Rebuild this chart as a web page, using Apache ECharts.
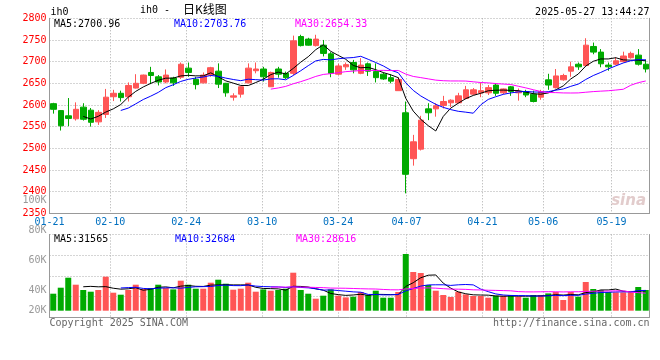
<!DOCTYPE html>
<html><head><meta charset="utf-8">
<script src="https://cdn.jsdelivr.net/npm/echarts@6/dist/echarts.min.js"></script>
<style>html,body{margin:0;padding:0;background:#fff}#c{width:660px;height:360px}</style>
</head><body><div id="c"></div>
<script>
// ---------- DATA ----------
const dates = ['01-21','01-22','01-23','01-24','01-27','02-05','02-06','02-07','02-10','02-11','02-12','02-13','02-14','02-17','02-18','02-19','02-20','02-21','02-24','02-25','02-26','02-27','02-28','03-03','03-04','03-05','03-06','03-07','03-10','03-11','03-12','03-13','03-14','03-17','03-18','03-19','03-20','03-21','03-24','03-25','03-26','03-27','03-28','03-31','04-01','04-02','04-03','04-07','04-08','04-09','04-10','04-11','04-14','04-15','04-16','04-17','04-18','04-21','04-22','04-23','04-24','04-25','04-28','04-29','04-30','05-06','05-07','05-08','05-09','05-12','05-13','05-14','05-15','05-16','05-19','05-20','05-21','05-22','05-23','05-26'];
const opens = [2603,2587,2575,2568,2595,2588,2561,2578,2619,2627, 2619,2639,2650,2675,2665,2653,2662,2664,2685,2659, 2651,2669,2678,2650,2618,2625,2651,2679,2683,2642, 2683,2673,2673,2758,2752,2737,2738,2718,2671,2688, 2698,2673,2695,2677,2671,2663,2633,2582,2476,2498, 2591,2591,2599,2605,2605,2615,2625,2628,2628,2646, 2628,2642,2628,2631,2625,2618,2658,2640,2658,2678, 2694,2691,2735,2722,2692,2694,2700,2709,2715,2694];
const closes = [2590,2552,2569,2590,2567,2560,2583,2618,2627,2617, 2645,2650,2669,2668,2653,2669,2651,2694,2675,2647, 2669,2686,2648,2628,2621,2642,2685,2683,2665,2675, 2671,2663,2748,2737,2738,2752,2719,2673,2690,2693, 2681,2692,2678,2663,2660,2655,2659,2440,2515,2565, 2582,2598,2608,2611,2621,2635,2635,2633,2640,2627, 2637,2631,2631,2623,2608,2631,2646,2667,2668,2688, 2688,2738,2722,2695,2688,2702,2713,2719,2694,2683];
const lows = [2580,2541,2551,2564,2564,2550,2554,2570,2609,2608, 2608,2638,2648,2648,2645,2650,2644,2660,2665,2636, 2650,2665,2639,2619,2610,2617,2650,2673,2654,2642, 2663,2660,2669,2735,2737,2735,2712,2664,2669,2681, 2673,2671,2667,2652,2658,2650,2633,2396,2460,2495, 2565,2573,2592,2595,2604,2613,2623,2618,2623,2621, 2625,2621,2610,2618,2606,2612,2635,2638,2656,2665, 2681,2688,2717,2687,2679,2692,2698,2707,2691,2675];
const highs = [2605,2588,2616,2606,2604,2593,2588,2637,2635,2633, 2652,2671,2670,2688,2669,2682,2665,2698,2698,2665, 2675,2688,2696,2651,2627,2643,2696,2698,2688,2677, 2688,2677,2760,2762,2755,2762,2750,2722,2695,2698, 2704,2708,2698,2696,2675,2671,2664,2608,2531,2575, 2604,2604,2621,2613,2628,2644,2639,2652,2646,2650, 2638,2644,2638,2635,2633,2635,2672,2683,2672,2700, 2698,2754,2744,2729,2698,2710,2723,2723,2729,2705];
const volumes = [27200,36800,52800,41600,33100,30400,33100,54400,28800,25600, 33100,41600,34700,36300,41600,36300,34100,48000,41600,35200, 35200,44800,49600,43200,33600,35200,44800,30400,34100,32000, 33100,35200,60800,33100,27200,19200,24000,34100,24000,21300, 22400,29900,25100,32000,20800,20800,29900,90700,61900,60300, 41100,32000,25100,21900,30400,26100,23500,23500,20800,24000, 24000,25100,22400,20800,25100,25100,27700,29900,17100,29900, 22400,45900,34700,33100,29900,29300,29300,29300,37900,33100];

const xTickLabels = ['01-21','02-10','02-24','03-10','03-24','04-07','04-21','05-06','05-19'];
const priceMin = 2350, priceMax = 2800, priceStep = 50;
const volTickValues = [20000,40000,60000,80000,100000];
const volTickLabels = ['20K','40K','60K','80K','100K'];

const titleSymbol = 'ih0';
const titleMain = 'ih0 -';
const titleCN = '日K线图';
const stamp = '2025-05-27 13:44:27';
const priceMaText = ['MA5:2700.96','MA10:2703.76','MA30:2654.33'];
const volMaText = ['MA5:31565','MA10:32684','MA30:28616'];
const copyText = 'Copyright 2025 SINA.COM';
const urlText = 'http://finance.sina.com.cn';

// ---------- STYLE ----------
const UP = '#ff5555', DOWN = '#00aa00';
const MA_COL = ['#000000','#0000ff','#ff00ff'];
const BORDER = '#999999', GRID = '#aaaaaa';
const MONO = '"DejaVu Sans Mono", "Liberation Mono", monospace';
const GL = 49.5, GW = 600;
const SPAN = 79;

function ma(arr, n) {
  return arr.map((v, i) => {
    if (i < n - 1) return '-';
    let s = 0; for (let k = i - n + 1; k <= i; k++) s += arr[k];
    return +(s / n).toFixed(2);
  });
}
const tickIdx = xTickLabels.map(d => dates.indexOf(d));
const candle = dates.map((d, i) => [opens[i], closes[i], lows[i], highs[i]]);

const dotted = { color: GRID, type: [1, 2], width: 1 };
const hidden = { show: false };

const option = {
  animation: false,
  backgroundColor: '#ffffff',
  grid: [
    { left: GL, width: GW, top: 18.3, height: 195, outerBoundsMode: 'none' },
    { left: GL, width: GW, top: 234.5, height: 82.8, outerBoundsMode: 'none' },
    { left: GL, width: GW, top: 200.5, height: 120, outerBoundsMode: 'none' }
  ],
  xAxis: [
    { type: 'category', gridIndex: 0, position: 'top', data: dates, boundaryGap: true,
      axisLine: hidden, axisTick: hidden, axisLabel: hidden, splitLine: hidden },
    { type: 'value', gridIndex: 0, position: 'bottom', min: 0, max: SPAN,
      axisLine: { show: true, onZero: false, lineStyle: { color: BORDER, width: 1 } },
      axisTick: { show: false, customValues: tickIdx },
      axisLabel: { customValues: tickIdx, formatter: v => xTickLabels[tickIdx.indexOf(v)],
        color: '#0070c0', fontFamily: MONO, fontSize: 10, margin: 4 },
      splitLine: { show: true, lineStyle: dotted } },
    { type: 'category', gridIndex: 1, position: 'top', data: dates, boundaryGap: true,
      axisLine: hidden, axisTick: hidden, axisLabel: hidden, splitLine: hidden },
    { type: 'value', gridIndex: 1, position: 'bottom', min: 0, max: SPAN,
      axisLine: { show: true, onZero: false, lineStyle: { color: BORDER, width: 1 } },
      axisTick: { show: false, customValues: tickIdx },
      axisLabel: { show: false, customValues: tickIdx },
      splitLine: { show: true, lineStyle: dotted } },
    { type: 'value', gridIndex: 2, show: false, min: 0, max: 1 }
  ],
  yAxis: [
    { type: 'value', gridIndex: 0, position: 'left', min: priceMin, max: priceMax, interval: priceStep,
      axisLine: { show: true, onZero: false, lineStyle: { color: BORDER } }, axisTick: hidden,
      axisLabel: { color: '#ff0000', fontFamily: MONO, fontSize: 10, margin: 3, padding: [0, 0, 3, 0],
        formatter: v => String(v) },
      splitLine: { show: true, lineStyle: dotted } },
    { type: 'value', gridIndex: 0, position: 'right', min: priceMin, max: priceMax,
      axisLine: { show: true, onZero: false, lineStyle: { color: BORDER } }, axisTick: hidden,
      axisLabel: hidden, splitLine: hidden },
    { type: 'value', gridIndex: 1, position: 'left', min: -10560, max: 121920,
      axisLine: { show: true, onZero: false, lineStyle: { color: BORDER } }, axisTick: hidden,
      axisLabel: hidden, splitLine: hidden },
    { type: 'value', gridIndex: 1, position: 'right', min: 0, max: 4, interval: 1,
      axisLine: { show: true, onZero: false, lineStyle: { color: BORDER } }, axisTick: hidden,
      axisLabel: hidden, splitLine: { show: true, lineStyle: dotted } },
    { type: 'value', gridIndex: 2, position: 'left', min: volTickValues[0], max: volTickValues[volTickValues.length - 1],
      interval: volTickValues[1] - volTickValues[0],
      axisLine: hidden, axisTick: hidden, splitLine: hidden,
      axisLabel: { color: '#999999', fontFamily: MONO, fontSize: 10, margin: 3,
        formatter: v => { const t = volTickLabels[volTickValues.indexOf(v)]; return v === volTickValues[0] ? '{lo|' + t + '}' : t; },
        rich: { lo: { color: '#999999', fontFamily: MONO, fontSize: 10, padding: [0, 0, 21, 0] } } } }
  ],
  series: [
    { type: 'candlestick', xAxisIndex: 0, yAxisIndex: 0, data: candle, barWidth: 6,
      itemStyle: { color: UP, color0: DOWN, borderColor: UP, borderColor0: DOWN, borderWidth: 1 } },
    { type: 'line', xAxisIndex: 0, yAxisIndex: 0, data: ma(closes, 5), symbol: 'none', lineStyle: { color: MA_COL[0], width: 1 } },
    { type: 'line', xAxisIndex: 0, yAxisIndex: 0, data: ma(closes, 10), symbol: 'none', lineStyle: { color: MA_COL[1], width: 1 } },
    { type: 'line', xAxisIndex: 0, yAxisIndex: 0, data: ma(closes, 30), symbol: 'none', lineStyle: { color: MA_COL[2], width: 1 } },
    { type: 'bar', xAxisIndex: 2, yAxisIndex: 2, data: volumes, barWidth: 6,
      itemStyle: { color: p => closes[p.dataIndex] >= opens[p.dataIndex] ? UP : DOWN } },
    { type: 'line', xAxisIndex: 2, yAxisIndex: 2, data: ma(volumes, 5), symbol: 'none', lineStyle: { color: MA_COL[0], width: 1 } },
    { type: 'line', xAxisIndex: 2, yAxisIndex: 2, data: ma(volumes, 10), symbol: 'none', lineStyle: { color: MA_COL[1], width: 1 } },
    { type: 'line', xAxisIndex: 2, yAxisIndex: 2, data: ma(volumes, 30), symbol: 'none', lineStyle: { color: MA_COL[2], width: 1 } }
  ],
  graphic: [
    { type: 'text', x: 50.5, y: 12, style: { text: titleSymbol, fill: '#000', font: '10px ' + MONO, textVerticalAlign: 'middle' } },
    { type: 'text', x: 140, y: 10, style: { text: titleMain, fill: '#000', font: '10px ' + MONO, textVerticalAlign: 'middle' } },
    { type: 'text', x: 183, y: 9, style: { text: titleCN, fill: '#000', font: '12px "Noto Sans CJK SC"', textVerticalAlign: 'middle' } },
    { type: 'text', x: 649.5, y: 12, style: { text: stamp, fill: '#000', font: '10px ' + MONO, textAlign: 'right', textVerticalAlign: 'middle' } },
    { type: 'text', x: 54, y: 24, style: { text: priceMaText[0], fill: MA_COL[0], font: '10px ' + MONO, textVerticalAlign: 'middle' } },
    { type: 'text', x: 174, y: 24, style: { text: priceMaText[1], fill: MA_COL[1], font: '10px ' + MONO, textVerticalAlign: 'middle' } },
    { type: 'text', x: 295, y: 24, style: { text: priceMaText[2], fill: MA_COL[2], font: '10px ' + MONO, textVerticalAlign: 'middle' } },
    { type: 'text', x: 54, y: 239, style: { text: volMaText[0], fill: MA_COL[0], font: '10px ' + MONO, textVerticalAlign: 'middle' } },
    { type: 'text', x: 175, y: 239, style: { text: volMaText[1], fill: MA_COL[1], font: '10px ' + MONO, textVerticalAlign: 'middle' } },
    { type: 'text', x: 296, y: 239, style: { text: volMaText[2], fill: MA_COL[2], font: '10px ' + MONO, textVerticalAlign: 'middle' } },
    { type: 'text', x: 49.5, y: 323, style: { text: copyText, fill: '#666', font: '10px ' + MONO, textVerticalAlign: 'middle' } },
    { type: 'text', x: 649.5, y: 323, style: { text: urlText, fill: '#666', font: '10px ' + MONO, textAlign: 'right', textVerticalAlign: 'middle' } },
    { type: 'text', x: 646, y: 201, style: { text: 'sina', fill: '#e2cccc', font: 'italic bold 15px "DejaVu Sans"', textAlign: 'right', textVerticalAlign: 'middle' } }
  ]
};
const chart = echarts.init(document.getElementById('c'), null, { renderer: 'canvas' });
chart.setOption(option);
</script></body></html>
